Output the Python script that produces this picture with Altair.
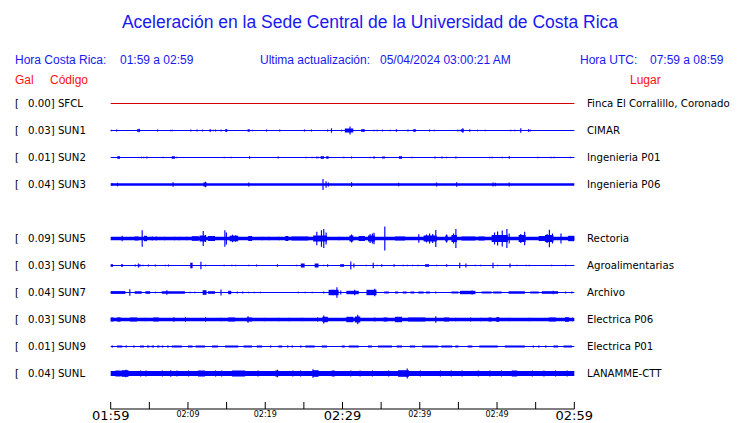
import altair as alt
import pandas as pd

# ---------------- data ----------------
rows = ["SFCL", "SUN1", "SUN2", "SUN3", "SUN4", "SUN5", "SUN6", "SUN7", "SUN8", "SUN9", "SUNL"]
codes = ["SFCL", "SUN1", "SUN2", "SUN3", "SUN5", "SUN6", "SUN7", "SUN8", "SUN9", "SUNL"]
gal = ["0.00", "0.03", "0.01", "0.04", "0.09", "0.03", "0.04", "0.03", "0.01", "0.04"]
places = ["Finca El Corralillo, Coronado", "CIMAR", "Ingenieria P01", "Ingenieria P06",
          "Rectoria", "Agroalimentarias", "Archivo", "Electrica P06", "Electrica P01", "LANAMME-CTT"]

# minutes after 01:59 (local time)
tick_minutes = [0, 5, 10, 15, 20, 25, 30, 35, 40, 45, 50, 55, 60]
major_minutes = [0, 30, 60]
major_labels = ["01:59", "02:29", "02:59"]
minor_minutes = [10, 20, 40, 50]
minor_labels = ["02:09", "02:19", "02:39", "02:49"]

# background (noise floor) half-amplitude of each trace
base_amp = {"SFCL": 0.5, "SUN1": 0.6, "SUN2": 0.6, "SUN3": 1.35, "SUN5": 1.7, "SUN6": 0.6,
            "SUN7": 0.6, "SUN8": 1.7, "SUN9": 0.5, "SUNL": 2.5}

# single peaks: (minute, half-amplitude)
spikes = {
    "SUN1": [(0.0, 0.8), (0.7, 1.0), (3.6, 1.7), (6.0, 1.0), (7.7, 0.8), (7.9, 0.8), (10.3, 0.9),
             (11.1, 1.0), (11.8, 0.9), (12.8, 1.6), (13.2, 0.8), (13.5, 0.9), (14.2, 0.9), (14.9, 1.3),
             (17.8, 1.2), (18.3, 0.8), (20.1, 0.9), (21.8, 1.0), (25.0, 1.1), (25.9, 0.9), (28.0, 0.9),
             (28.5, 2.2), (29.8, 0.8), (30.9, 4.0), (32.6, 1.3), (34.0, 0.8), (34.4, 0.7), (35.1, 0.9),
             (36.1, 0.8), (36.9, 1.2), (38.4, 0.9), (39.3, 1.3), (41.2, 0.9), (41.8, 0.8), (44.8, 0.8),
             (45.0, 0.8), (45.5, 2.2), (46.4, 1.2), (47.4, 0.8), (48.4, 0.7), (51.7, 0.8), (52.2, 0.8),
             (53.0, 2.2), (54.0, 1.3), (54.2, 1.0)],
    "SUN2": [(3.9, 0.7), (4.2, 0.7), (4.6, 1.0), (6.7, 0.7), (8.4, 0.8), (14.6, 0.7), (15.5, 0.7),
             (17.9, 1.3), (21.6, 1.0), (25.2, 0.7), (26.0, 0.7), (26.6, 1.0), (26.8, 0.8), (27.1, 0.8),
             (30.1, 0.7), (31.1, 1.0), (33.5, 0.7), (34.0, 1.3), (38.9, 0.7), (41.9, 1.0), (42.8, 1.0),
             (43.4, 0.7), (44.6, 1.0), (49.0, 0.7), (49.3, 0.7), (50.6, 0.7), (51.5, 1.3), (55.2, 0.7),
             (56.9, 0.7), (57.3, 0.7), (59.4, 0.7)],
    "SUN3": [(0.1, 1.5), (0.8, 1.8), (8.0, 2.3), (12.2, 2.7), (17.8, 2.0), (27.4, 5.5), (27.8, 3.3),
             (28.1, 2.0), (31.1, 2.3), (37.2, 1.7), (42.1, 2.0), (44.7, 2.3), (49.4, 2.0), (49.7, 1.7),
             (51.5, 2.0)],
    "SUN5": [(1.4, 2.7), (4.0, 8.3), (5.3, 2.0), (5.8, 2.0), (6.9, 1.8), (8.2, 1.8), (8.8, 1.8),
             (9.8, 1.8), (11.9, 7.5), (12.2, 3.5), (14.7, 8.3), (14.9, 6.0), (15.7, 3.8), (16.1, 3.3),
             (19.5, 1.8), (20.4, 1.8), (21.7, 1.8), (26.6, 6.7), (27.2, 8.3), (27.5, 9.5), (27.8, 6.0),
             (29.5, 1.8), (31.1, 4.0), (33.5, 4.5), (33.8, 5.0), (34.0, 5.7), (35.4, 12.0), (39.8, 4.3),
             (40.8, 4.0), (41.2, 5.0), (41.6, 4.5), (42.0, 8.5), (43.4, 4.0), (44.3, 5.0), (44.6, 9.5),
             (49.6, 6.0), (50.0, 7.0), (50.6, 8.0), (51.2, 9.5), (51.5, 5.0), (53.0, 4.5), (53.5, 6.7),
             (56.4, 4.5), (56.7, 8.7), (57.1, 5.0), (58.2, 5.0)],
    "SUN6": [(3.1, 1.0), (3.5, 2.0), (3.7, 1.3), (4.1, 0.8), (4.8, 1.0), (5.7, 1.0), (7.0, 0.8),
             (7.4, 1.0), (11.6, 3.8), (12.2, 0.8), (14.6, 0.7), (15.6, 0.8), (16.1, 0.7), (17.8, 0.8),
             (18.8, 1.0), (21.5, 1.3), (24.0, 0.8), (27.5, 0.8), (28.0, 1.3), (31.0, 4.0), (31.4, 2.0),
             (33.0, 0.8), (33.9, 2.7), (34.4, 0.8), (35.0, 1.3), (36.6, 1.3), (37.8, 0.8), (38.3, 0.8),
             (39.0, 0.8), (39.7, 0.8), (42.1, 0.8), (43.4, 1.3), (45.1, 2.7), (45.9, 2.0), (47.1, 0.8),
             (47.8, 0.8), (49.4, 2.7), (50.0, 0.8), (51.6, 2.0), (52.5, 0.8), (53.7, 0.7), (54.1, 0.7),
             (57.0, 0.7), (58.8, 0.7)],
    "SUN7": [(2.4, 3.3), (5.7, 0.8), (7.2, 2.3), (10.2, 0.8), (10.8, 0.8), (14.2, 3.0), (16.3, 1.0),
             (17.0, 1.0), (17.8, 0.8), (18.5, 0.8), (19.3, 0.8), (24.2, 0.7), (25.1, 0.7), (26.0, 0.7),
             (27.5, 1.0), (28.7, 2.7), (29.2, 5.3), (29.7, 2.0), (31.5, 2.7), (34.1, 3.7), (42.0, 1.0),
             (46.7, 2.0), (57.2, 1.7), (58.8, 1.0), (59.6, 1.0)],
    "SUN8": [(1.0, 2.0), (4.4, 1.8), (8.1, 2.2), (9.6, 2.2), (12.2, 2.2), (14.2, 1.8), (17.7, 3.3),
             (19.8, 1.8), (21.7, 1.8), (23.0, 1.8), (24.7, 1.8), (26.7, 2.0), (27.5, 4.0), (31.9, 4.7),
             (34.1, 2.0), (42.0, 3.3), (44.6, 1.8), (46.5, 2.0), (47.8, 1.8), (51.5, 1.8), (54.1, 1.8),
             (59.7, 1.8)],
    "SUNL": [(1.9, 3.8), (3.8, 3.0), (4.5, 3.0), (6.6, 3.0), (7.7, 3.3), (8.5, 3.0), (10.0, 3.0),
             (13.5, 3.0), (14.3, 3.0), (19.0, 3.0), (21.5, 3.8), (23.5, 3.0), (24.5, 3.0), (26.1, 4.3),
             (31.0, 3.0), (32.2, 3.0), (33.8, 3.0), (35.9, 3.0), (38.3, 5.0), (40.0, 3.0), (42.6, 3.0),
             (44.0, 3.0), (45.4, 3.0), (47.5, 3.0), (49.0, 3.0), (50.5, 3.0), (54.5, 3.0), (56.0, 3.0),
             (57.5, 3.0), (59.0, 3.0)],
}

# bursts of energy: (start minute, end minute, half-amplitude)
bursts = {
    "SUN1": [(3.4, 3.8, 1.2), (14.8, 15.1, 1.1), (17.7, 18.0, 1.0), (30.3, 31.4, 2.0),
             (32.4, 32.9, 1.2), (39.1, 39.5, 1.1), (45.3, 45.7, 1.2)],
    "SUN2": [(0.85, 1.2, 1.3), (7.9, 8.3, 1.3), (27.2, 27.6, 1.3), (27.9, 28.2, 1.3),
             (35.1, 35.5, 1.0), (37.3, 37.7, 1.3)],
    "SUN3": [(12.0, 12.4, 2.0)],
    "SUN5": [(3.1, 3.6, 2.0), (4.3, 4.7, 2.7), (10.5, 11.4, 2.3), (11.5, 12.3, 3.0), (12.6, 13.5, 2.5),
             (15.4, 16.5, 2.8), (17.8, 18.3, 2.5), (22.6, 23.0, 2.5), (23.4, 25.6, 2.0), (26.2, 28.0, 3.0),
             (30.9, 31.4, 3.0), (32.1, 32.9, 2.5), (33.3, 34.2, 3.0), (36.8, 38.1, 2.0), (40.5, 42.2, 3.0),
             (43.3, 43.6, 3.0), (44.1, 44.8, 3.5), (45.4, 47.2, 2.0), (47.6, 48.4, 2.0), (49.3, 51.4, 3.5),
             (52.8, 53.7, 3.5), (55.4, 56.2, 2.5), (56.2, 57.3, 3.5), (59.2, 60.0, 2.7)],
    "SUN6": [(0.0, 0.3, 1.3), (1.35, 1.6, 1.3), (10.3, 10.6, 2.8), (24.6, 25.1, 2.0), (26.4, 26.9, 2.0),
             (29.7, 30.2, 1.3), (40.7, 41.2, 1.3)],
    "SUN7": [(0.0, 1.9, 1.4), (3.1, 4.0, 1.3), (4.5, 5.1, 1.3), (6.6, 9.6, 1.3), (11.9, 12.4, 2.3),
             (12.6, 13.5, 1.3), (15.2, 15.6, 1.7), (28.2, 29.5, 2.7), (30.5, 32.1, 1.7), (33.1, 34.4, 2.7),
             (35.4, 36.0, 1.0), (36.8, 37.2, 1.0), (37.8, 38.3, 1.0), (38.8, 39.3, 1.0), (39.8, 40.5, 1.0),
             (40.8, 41.3, 1.0), (44.1, 45.0, 1.0), (45.2, 47.2, 1.7), (48.0, 49.3, 1.0), (49.5, 50.6, 1.0),
             (51.5, 53.6, 1.3), (54.3, 55.4, 1.0), (55.8, 57.9, 1.3)],
    "SUN8": [(0.0, 0.4, 2.0), (0.8, 1.3, 2.0), (2.5, 3.4, 2.0), (5.5, 6.2, 2.0), (15.2, 16.1, 2.0),
             (17.6, 18.3, 2.0), (27.4, 28.1, 2.7), (30.5, 31.4, 2.7), (31.6, 32.3, 3.0), (35.3, 35.8, 2.0),
             (36.8, 37.7, 2.7), (38.5, 40.7, 2.0), (43.1, 43.8, 2.0), (48.9, 49.3, 2.0), (49.9, 50.3, 2.3),
             (56.7, 57.6, 2.0), (58.8, 59.3, 2.3)],
    "SUN9": [(0.1, 0.3, 1.0), (0.8, 1.5, 1.0), (1.9, 2.1, 1.0), (2.9, 3.1, 1.0), (3.8, 4.3, 1.0),
             (4.7, 5.0, 1.0), (5.3, 5.6, 1.0), (6.0, 6.3, 1.0), (6.6, 6.8, 1.0), (7.3, 7.5, 1.0),
             (7.9, 9.2, 1.0), (10.0, 10.6, 1.0), (11.0, 12.2, 1.0), (13.1, 13.9, 1.0), (14.8, 16.5, 1.0),
             (17.2, 18.3, 1.0), (18.9, 19.6, 1.0), (20.6, 20.8, 1.0), (21.7, 22.2, 1.0), (22.8, 23.0, 1.0),
             (23.4, 23.6, 1.0), (24.5, 24.7, 1.0), (25.2, 26.4, 1.0), (27.3, 28.0, 1.0), (29.9, 30.3, 1.0),
             (30.8, 32.1, 1.0), (33.3, 33.8, 1.0), (34.6, 36.4, 1.0), (37.0, 37.7, 1.0), (38.7, 39.4, 1.0),
             (40.3, 42.4, 1.0), (42.8, 44.2, 1.0), (44.6, 45.0, 1.0), (46.2, 46.8, 1.0), (47.7, 50.1, 1.0),
             (51.0, 53.6, 1.0), (54.6, 54.8, 1.0), (55.3, 55.5, 1.0), (56.2, 56.4, 1.0), (57.3, 57.9, 1.0),
             (58.6, 59.7, 1.0)],
    "SUNL": [(0.6, 1.3, 3.0), (1.4, 2.3, 3.3), (11.3, 12.2, 3.0), (15.7, 17.4, 3.0), (21.3, 21.7, 3.0),
             (26.2, 26.9, 3.3), (28.6, 29.0, 3.0), (37.2, 38.6, 3.3), (51.9, 52.6, 3.0)],
}

# ---------------- build the tables ----------------
ROW = 27.0          # vertical units between two trace rows
SPIKE_DUR = 0.15    # duration of an isolated peak, minutes

recs = []
for code in codes:
    off = rows.index(code) * ROW
    recs.append({"code": code, "t0": 0.0, "t1": 60.0, "ylo": off - base_amp[code], "yhi": off + base_amp[code]})
    for t0, t1, a in bursts.get(code, []):
        recs.append({"code": code, "t0": t0, "t1": t1, "ylo": off - a, "yhi": off + a})
    for t, a in spikes.get(code, []):
        recs.append({"code": code, "t0": t, "t1": min(t + SPIKE_DUR, 60.0), "ylo": off - a, "yhi": off + a})
traces = pd.DataFrame(recs)

labels = pd.DataFrame({
    "code": codes,
    "y": [rows.index(c) * ROW for c in codes],
    "left": [f"{g}] {c}" for g, c in zip(gal, codes)],
    "place": places,
})

xs = alt.Scale(domain=[0, 60], range=[102.7, 566.3])
ys = alt.Scale(domain=[0, 10 * ROW], range=[95.5, 365.5])

BLUE = "#0000ff"
TBLUE = "#1818f0"
RED = "#ff1010"
SANS = "Liberation Sans"
DJ = "DejaVu Sans"
LAB_SIZE = 10.2

trace_layer = alt.Chart(traces).mark_rect(strokeWidth=0).encode(
    x=alt.X("t0:Q", scale=xs, axis=None),
    x2="t1:Q",
    y=alt.Y("ylo:Q", scale=ys, axis=None),
    y2="yhi:Q",
    color=alt.condition(alt.datum.code == "SFCL", alt.value("#d40000"), alt.value(BLUE)),
)

bracket = alt.Chart(labels).mark_text(align="left", baseline="middle", font=DJ, fontSize=LAB_SIZE, color="black").encode(
    x=alt.value(7), y=alt.Y("y:Q", scale=ys, axis=None), text=alt.value("[")
)
left_lab = alt.Chart(labels).mark_text(align="left", baseline="middle", font=DJ, fontSize=LAB_SIZE, color="black").encode(
    x=alt.value(20), y=alt.Y("y:Q", scale=ys, axis=None), text="left:N"
)
right_lab = alt.Chart(labels).mark_text(align="left", baseline="middle", font=DJ, fontSize=LAB_SIZE, color="black").encode(
    x=alt.value(579), y=alt.Y("y:Q", scale=ys, axis=None), text="place:N"
)

# time axis
axis_line = alt.Chart(pd.DataFrame({"a": [0], "b": [60]})).mark_rule(color="black", strokeWidth=1).encode(
    x=alt.X("a:Q", scale=xs, axis=None), x2="b:Q", y=alt.value(401)
)
ticks = alt.Chart(pd.DataFrame({"m": tick_minutes})).mark_rule(color="black", strokeWidth=1).encode(
    x=alt.X("m:Q", scale=xs, axis=None), y=alt.value(394), y2=alt.value(401)
)
major = alt.Chart(pd.DataFrame({"m": major_minutes, "lab": major_labels})).mark_text(
    align="center", baseline="middle", font=DJ, fontSize=13, color="black").encode(
    x=alt.X("m:Q", scale=xs, axis=None), y=alt.value(408), text="lab:N"
)
minor = alt.Chart(pd.DataFrame({"m": minor_minutes, "lab": minor_labels})).mark_text(
    align="center", baseline="middle", font=DJ, fontSize=8, color="black").encode(
    x=alt.X("m:Q", scale=xs, axis=None), y=alt.value(407), text="lab:N"
)


def fixed(text, x, y, size, color, align="left", font=SANS):
    return alt.Chart(pd.DataFrame({"s": [text]})).mark_text(
        align=align, baseline="alphabetic", font=font, fontSize=size, color=color
    ).encode(x=alt.value(x), y=alt.value(y), text="s:N")


header = [
    fixed("Aceleración en la Sede Central de la Universidad de Costa Rica", 362, 20, 17.5, TBLUE, "center"),
    fixed("Hora Costa Rica:", 7, 56, 12, TBLUE),
    fixed("01:59 a 02:59", 112, 56, 12, TBLUE),
    fixed("Ultima actualización:", 252, 56, 12, TBLUE),
    fixed("05/04/2024 03:00:21 AM", 372, 56, 12, TBLUE),
    fixed("Hora UTC:", 572, 56, 12, TBLUE),
    fixed("07:59 a 08:59", 642, 56, 12, TBLUE),
    fixed("Gal", 7, 76, 12, RED),
    fixed("Código", 42, 76, 12, RED),
    fixed("Lugar", 622, 76, 12, RED),
]

chart = alt.layer(
    trace_layer, bracket, left_lab, right_lab, axis_line, ticks, major, minor, *header
).properties(
    width=724, height=415, autosize=alt.AutoSizeParams(type="none"), padding=0, background="white"
).configure_view(stroke=None)

chart.save("out.html", embed_options={"renderer": "svg", "actions": False})
